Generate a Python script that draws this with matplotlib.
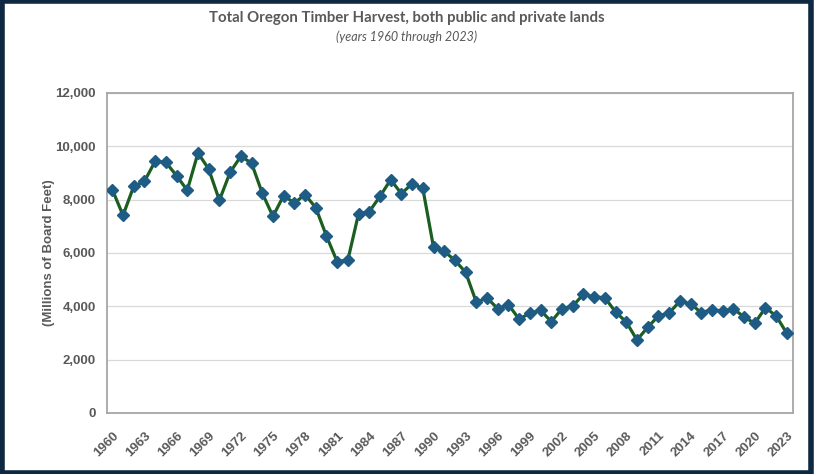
import numpy as np
import matplotlib
matplotlib.use('Agg')
import matplotlib.pyplot as plt
from matplotlib.patches import Rectangle

# Данные: годовой объём заготовки (млн досковых футов)
years = list(range(1960, 2024))
harvest = [8375, 7413, 8500, 8688, 9438, 9400, 8900, 8350, 9750, 9150,
           7975, 9025, 9625, 9375, 8250, 7375, 8150, 7875, 8188, 7700,
           6638, 5675, 5738, 7475, 7550, 8125, 8750, 8225, 8600, 8420,
           6213, 6063, 5725, 5275, 4150, 4313, 3913, 4063, 3513, 3750,
           3850, 3425, 3913, 4013, 4450, 4350, 4325, 3788, 3413, 2738,
           3213, 3638, 3750, 4188, 4100, 3763, 3875, 3825, 3913, 3600,
           3363, 3950, 3638, 2988]
tick_years = list(range(1960, 2024, 3))
y_ticks = [0, 2000, 4000, 6000, 8000, 10000, 12000]

title = 'Total Oregon Timber Harvest, both public and private lands'
subtitle = '(years 1960 through 2023)'
ylabel = '(Millions of Board Feet)'

text_gray = '#595959'

fig = plt.figure(figsize=(8.14, 4.74), dpi=100)
ax = fig.add_axes([0.1314, 0.1287, 0.8425, 0.6751])

ax.plot(years, harvest, color='#1B5E20', linewidth=2.3, marker='D',
        markersize=6, markerfacecolor='#1F5C85', markeredgecolor='#1F5C85',
        zorder=3)

ax.set_xlim(1959.5, 2023.55)
ax.set_ylim(0, 12000)
ax.set_yticks(y_ticks)
ax.set_yticklabels([f'{v:,}' for v in y_ticks], fontsize=9.5,
                   fontweight='bold', color=text_gray, family='Liberation Sans')
ax.set_xticks(tick_years)
ax.set_xticklabels([str(y) for y in tick_years], rotation=45, ha='right',
                   rotation_mode='anchor', fontsize=9.5, fontweight='bold',
                   color=text_gray, family='Liberation Sans')
ax.tick_params(axis='y', length=0, pad=8)
ax.tick_params(axis='x', length=0, pad=12)

ax.grid(axis='y', color='#D9D9D9', linewidth=0.9)
ax.set_axisbelow(True)
for s in ax.spines.values():
    s.set_color('#A6A6A6')
    s.set_linewidth(1.3)

ax.set_ylabel(ylabel, fontsize=9.5, fontweight='bold', color=text_gray,
              family='Liberation Sans', labelpad=0)

fig.text(0.5, 0.962, title, ha='center', va='center', fontsize=10.8,
         fontweight='bold', color=text_gray, family='Lato')
fig.text(0.5, 0.922, subtitle, ha='center', va='center', fontsize=9,
         style='italic', color=text_gray, family='Lato')

# Тёмная рамка вокруг картинки
fig.patches.append(Rectangle((0.002, 0.003), 0.994, 0.994, transform=fig.transFigure,
                             fill=False, edgecolor='#0E2841', linewidth=4))

fig.savefig('out.png', dpi=100)
